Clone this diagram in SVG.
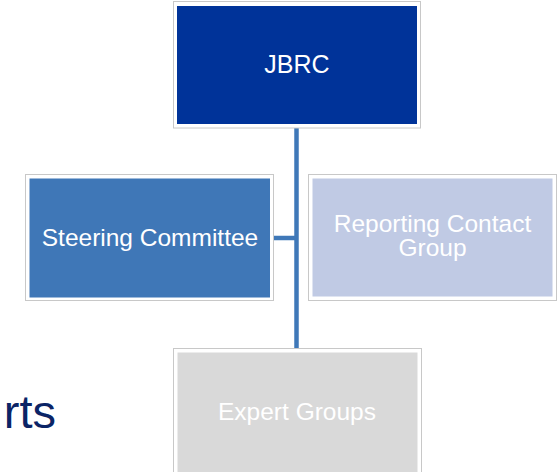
<svg xmlns="http://www.w3.org/2000/svg" width="560" height="472" viewBox="0 0 560 472">
<style>
.outer{fill:#ffffff;stroke:#c8c8c8;stroke-width:1}
.lbl{font-family:"Liberation Sans",Arial,sans-serif;fill:#ffffff;text-anchor:middle}
.conn{stroke:#3f78b8;stroke-width:4.5;fill:none}
</style>
<rect width="560" height="472" fill="#ffffff"/>
<text x="56" y="428" font-family="Liberation Sans,Arial,sans-serif" font-size="47" fill="#0b2466" text-anchor="end">rts</text>
<g id="connectors">
<line class="conn" x1="296.5" y1="128" x2="296.5" y2="348"/>
<line class="conn" x1="273.5" y1="238" x2="296.5" y2="238"/>
</g>
<g id="jbrc">
<rect class="outer" x="173.5" y="1.5" width="247" height="126.5"/>
<rect x="177" y="6" width="240" height="118" fill="#003399"/>
<text class="lbl" x="297" y="72.5" font-size="25">JBRC</text>
</g>
<g id="steering">
<rect class="outer" x="25.5" y="174.5" width="248" height="126"/>
<rect x="29.5" y="178.5" width="240.5" height="119" fill="#3f77b7"/>
<text class="lbl" x="150" y="246" font-size="24.5">Steering Committee</text>
</g>
<g id="reporting">
<rect class="outer" x="308.5" y="174.5" width="248" height="126"/>
<rect x="312.5" y="178.5" width="240" height="118" fill="#c0cae4"/>
<text class="lbl" x="432.5" y="231.5" font-size="24.5" fill="#f4f6fb">Reporting Contact</text>
<text class="lbl" x="432.5" y="256" font-size="24.5" fill="#f4f6fb">Group</text>
</g>
<g id="expert">
<rect class="outer" x="173.5" y="348.5" width="248" height="130"/>
<rect x="177.5" y="352.5" width="240" height="125" fill="#d9d9d9"/>
<text class="lbl" x="297" y="420" font-size="24.5" fill="#f6f6f6">Expert Groups</text>
</g>
</svg>
